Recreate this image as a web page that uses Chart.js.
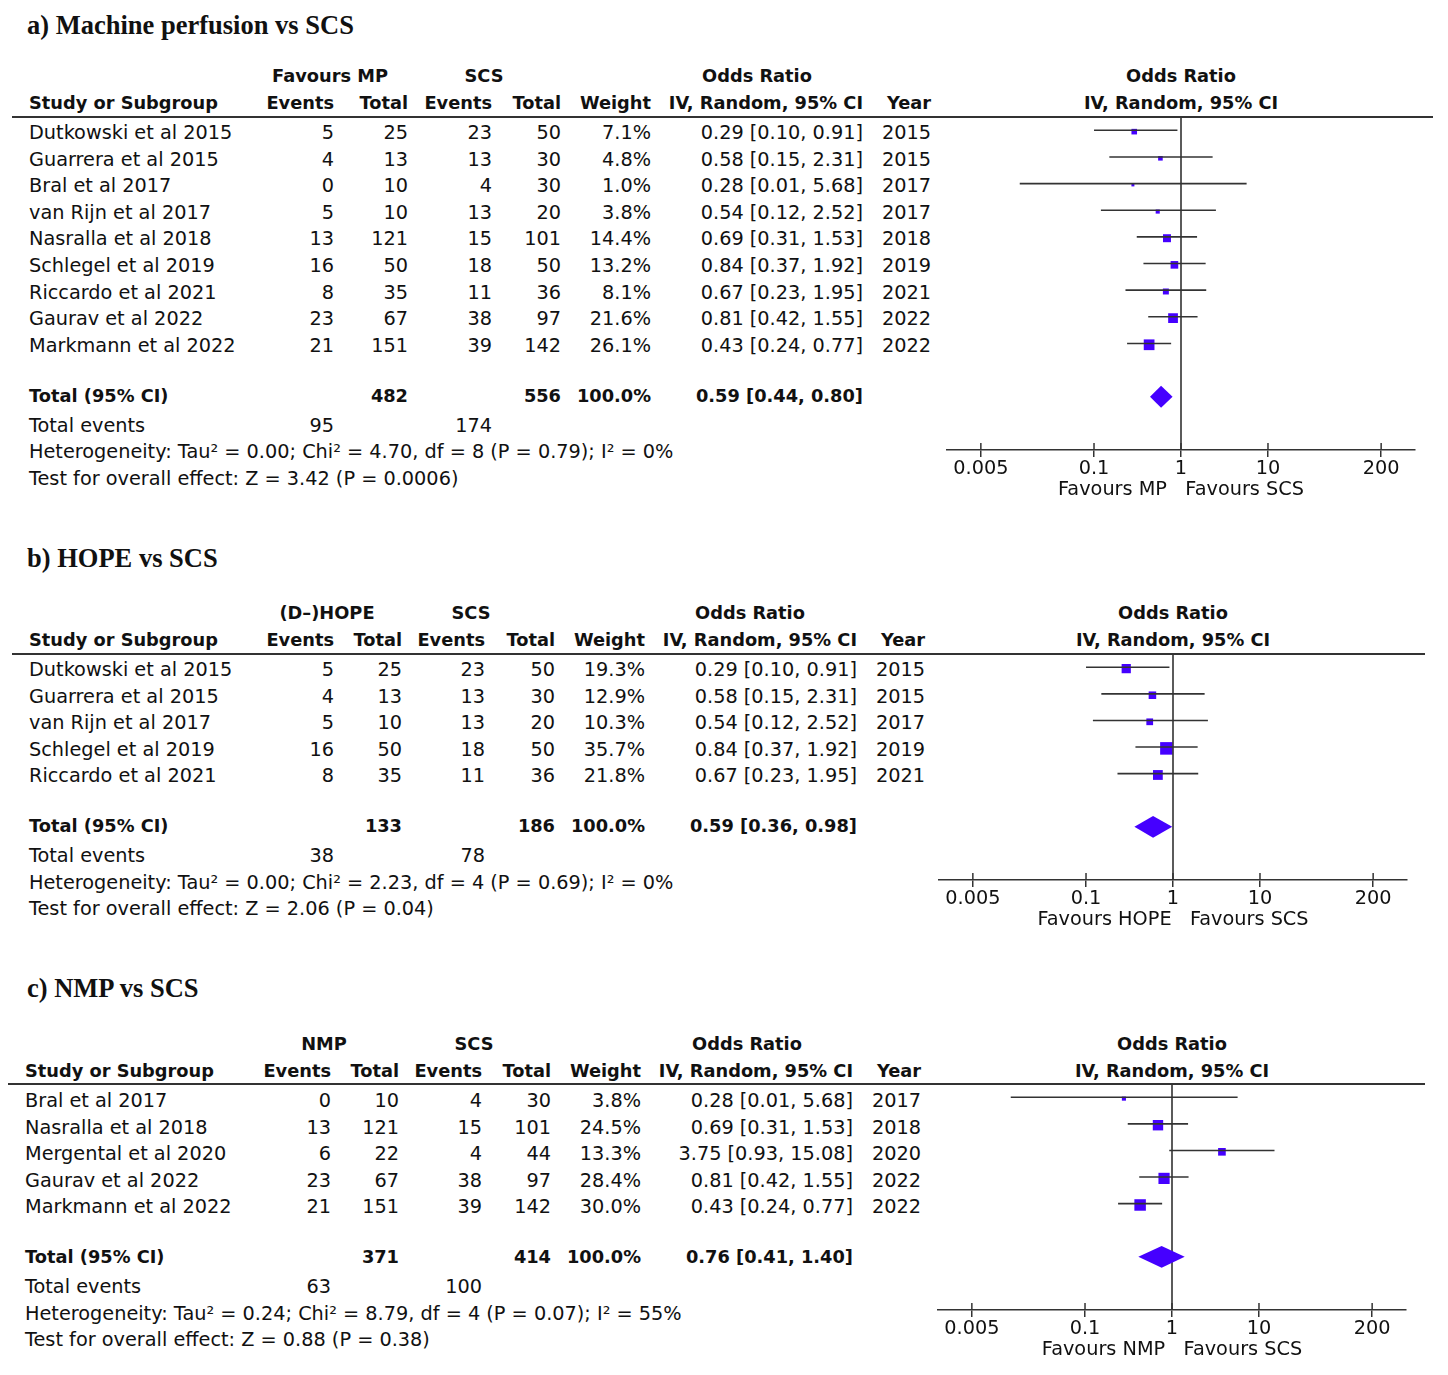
<!DOCTYPE html>
<html>
<head>
<meta charset="utf-8">
<script src="https://cdn.jsdelivr.net/npm/chart.js@4.4.1/dist/chart.umd.min.js"></script>
<style>
html, body { margin: 0; padding: 0; background: #fff; }
#page { position: relative; width: 1448px; height: 1375px; overflow: hidden; font-family: "DejaVu Sans", sans-serif; color: #111; }
.t { position: absolute; white-space: nowrap; font-size: 19.3px; line-height: 24px; height: 24px; }
.b { font-weight: bold; font-size: 17.8px; }
.ttl { position: absolute; white-space: nowrap; font-family: "Liberation Serif", "Times New Roman", serif; font-weight: bold; font-size: 26.5px; line-height: 32px; }
.rule { position: absolute; height: 0; border-top: 2px solid #333; }
canvas { position: absolute; }
</style>
</head>
<body>
<div id="page"></div>
<script>
// ── data ───────────────────────────────────────────────────────────────────
const tickVals   = [0.005, 0.1, 1, 10, 200];
const tickLabels = ["0.005", "0.1", "1", "10", "200"];

// a) Machine perfusion vs SCS
const studiesA = ["Dutkowski et al 2015", "Guarrera et al 2015", "Bral et al 2017", "van Rijn et al 2017",
  "Nasralla et al 2018", "Schlegel et al 2019", "Riccardo et al 2021", "Gaurav et al 2022", "Markmann et al 2022"];
const evA     = [5, 4, 0, 5, 13, 16, 8, 23, 21];
const totA    = [25, 13, 10, 10, 121, 50, 35, 67, 151];
const evScsA  = [23, 13, 4, 13, 15, 18, 11, 38, 39];
const totScsA = [50, 30, 30, 20, 101, 50, 36, 97, 142];
const weightA = [7.1, 4.8, 1.0, 3.8, 14.4, 13.2, 8.1, 21.6, 26.1];
const orA     = [0.29, 0.58, 0.28, 0.54, 0.69, 0.84, 0.67, 0.81, 0.43];
const loA     = [0.10, 0.15, 0.014, 0.12, 0.31, 0.37, 0.23, 0.42, 0.24];
const hiA     = [0.91, 2.31, 5.68, 2.52, 1.53, 1.92, 1.95, 1.55, 0.77];
const yearA   = [2015, 2015, 2017, 2017, 2018, 2019, 2021, 2022, 2022];
const pooledA = [0.59, 0.44, 0.80];
const sumsA   = [482, 556, 95, 174];
const hetA    = "Heterogeneity: Tau² = 0.00; Chi² = 4.70, df = 8 (P = 0.79); I² = 0%";
const testA   = "Test for overall effect: Z = 3.42 (P = 0.0006)";

// b) HOPE vs SCS
const studiesB = ["Dutkowski et al 2015", "Guarrera et al 2015", "van Rijn et al 2017", "Schlegel et al 2019", "Riccardo et al 2021"];
const evB     = [5, 4, 5, 16, 8];
const totB    = [25, 13, 10, 50, 35];
const evScsB  = [23, 13, 13, 18, 11];
const totScsB = [50, 30, 20, 50, 36];
const weightB = [19.3, 12.9, 10.3, 35.7, 21.8];
const orB     = [0.29, 0.58, 0.54, 0.84, 0.67];
const loB     = [0.10, 0.15, 0.12, 0.37, 0.23];
const hiB     = [0.91, 2.31, 2.52, 1.92, 1.95];
const yearB   = [2015, 2015, 2017, 2019, 2021];
const pooledB = [0.59, 0.36, 0.98];
const sumsB   = [133, 186, 38, 78];
const hetB    = "Heterogeneity: Tau² = 0.00; Chi² = 2.23, df = 4 (P = 0.69); I² = 0%";
const testB   = "Test for overall effect: Z = 2.06 (P = 0.04)";

// c) NMP vs SCS
const studiesC = ["Bral et al 2017", "Nasralla et al 2018", "Mergental et al 2020", "Gaurav et al 2022", "Markmann et al 2022"];
const evC     = [0, 13, 6, 23, 21];
const totC    = [10, 121, 22, 67, 151];
const evScsC  = [4, 15, 4, 38, 39];
const totScsC = [30, 101, 44, 97, 142];
const weightC = [3.8, 24.5, 13.3, 28.4, 30.0];
const orC     = [0.28, 0.69, 3.75, 0.81, 0.43];
const loC     = [0.014, 0.31, 0.93, 0.42, 0.24];
const hiC     = [5.68, 1.53, 15.08, 1.55, 0.77];
const yearC   = [2017, 2018, 2020, 2022, 2022];
const pooledC = [0.76, 0.41, 1.40];
const sumsC   = [371, 414, 63, 100];
const hetC    = "Heterogeneity: Tau² = 0.24; Chi² = 8.79, df = 4 (P = 0.07); I² = 55%";
const testC   = "Test for overall effect: Z = 0.88 (P = 0.38)";

// ── layout ─────────────────────────────────────────────────────────────────
const BLUE = "#4500ff", INK = "#333";
const ROW_H = 26.6, AXIS_H = 52, HALF_W = 234, MARGIN = 40;

const panels = [
  { title: "a) Machine perfusion vs SCS", group: "Favours MP", fav: "Favours MP   Favours SCS",
    studies: studiesA, ev: evA, tot: totA, evS: evScsA, totS: totScsA, w: weightA, or: orA, lo: loA, hi: hiA, year: yearA,
    pooled: pooledA, sums: sumsA, het: hetA, test: testA,
    L: { ty: 25, h1: 76, h2: 103, rule: 117, rl: 1433, row0: 133, total: 396, te: 426, hetY: 452, testY: 479,
         left: 29, ev: 334, tot: 408, evS: 492, totS: 561, w: 651, ci: 863, yr: 931, g1: 330, g2: 484, orc: 757, cx: 1181 } },
  { title: "b) HOPE vs SCS", group: "(D–)HOPE", fav: "Favours HOPE   Favours SCS",
    studies: studiesB, ev: evB, tot: totB, evS: evScsB, totS: totScsB, w: weightB, or: orB, lo: loB, hi: hiB, year: yearB,
    pooled: pooledB, sums: sumsB, het: hetB, test: testB,
    L: { ty: 558, h1: 613, h2: 640, rule: 654, rl: 1425, row0: 670, total: 826, te: 856, hetY: 883, testY: 909,
         left: 29, ev: 334, tot: 402, evS: 485, totS: 555, w: 645, ci: 857, yr: 925, g1: 327, g2: 471, orc: 750, cx: 1173 } },
  { title: "c) NMP vs SCS", group: "NMP", fav: "Favours NMP   Favours SCS",
    studies: studiesC, ev: evC, tot: totC, evS: evScsC, totS: totScsC, w: weightC, or: orC, lo: loC, hi: hiC, year: yearC,
    pooled: pooledC, sums: sumsC, het: hetC, test: testC,
    L: { ty: 988, h1: 1044, h2: 1071, rule: 1084, rl: 1425, row0: 1101, total: 1257, te: 1287, hetY: 1314, testY: 1340,
         left: 25, ev: 331, tot: 399, evS: 482, totS: 551, w: 641, ci: 853, yr: 921, g1: 324, g2: 474, orc: 747, cx: 1172 } }
];

const page = document.getElementById("page");

function put(str, x, y, align, bold) {
  const d = document.createElement("div");
  d.className = "t" + (bold ? " b" : "");
  d.textContent = str;
  d.style.top = (y - 12) + "px";
  if (align === "left") d.style.left = x + "px";
  else if (align === "right") d.style.right = (1448 - x) + "px";
  else { d.style.left = x + "px"; d.style.transform = "translateX(-50%)"; }
  page.appendChild(d);
}

const ci = (o, l, h) => `${o.toFixed(2)} [${l.toFixed(2)}, ${h.toFixed(2)}]`;

function table(p) {
  const L = p.L;
  const t = document.createElement("div");
  t.className = "ttl"; t.textContent = p.title;
  t.style.left = "27px"; t.style.top = (L.ty - 16) + "px";
  page.appendChild(t);

  put(p.group, L.g1, L.h1, "center", true);
  put("SCS", L.g2, L.h1, "center", true);
  put("Odds Ratio", L.orc, L.h1, "center", true);
  put("Odds Ratio", L.cx, L.h1, "center", true);
  put("Study or Subgroup", L.left, L.h2, "left", true);
  put("Events", L.ev, L.h2, "right", true);
  put("Total", L.tot, L.h2, "right", true);
  put("Events", L.evS, L.h2, "right", true);
  put("Total", L.totS, L.h2, "right", true);
  put("Weight", L.w, L.h2, "right", true);
  put("IV, Random, 95% CI", L.ci, L.h2, "right", true);
  put("Year", L.yr, L.h2, "right", true);
  put("IV, Random, 95% CI", L.cx, L.h2, "center", true);

  const r = document.createElement("div");
  r.className = "rule";
  r.style.left = (L.left - 17) + "px"; r.style.width = (L.rl - L.left + 17) + "px";
  r.style.top = (L.rule - 1) + "px";
  page.appendChild(r);

  p.studies.forEach((s, i) => {
    const y = L.row0 + i * ROW_H;
    put(s, L.left, y, "left");
    put(String(p.ev[i]), L.ev, y, "right");
    put(String(p.tot[i]), L.tot, y, "right");
    put(String(p.evS[i]), L.evS, y, "right");
    put(String(p.totS[i]), L.totS, y, "right");
    put(p.w[i].toFixed(1) + "%", L.w, y, "right");
    put(ci(p.or[i], p.lo[i], p.hi[i]), L.ci, y, "right");
    put(String(p.year[i]), L.yr, y, "right");
  });

  put("Total (95% CI)", L.left, L.total, "left", true);
  put(String(p.sums[0]), L.tot, L.total, "right", true);
  put(String(p.sums[1]), L.totS, L.total, "right", true);
  put("100.0%", L.w, L.total, "right", true);
  put(ci(p.pooled[0], p.pooled[1], p.pooled[2]), L.ci, L.total, "right", true);
  put("Total events", L.left, L.te, "left");
  put(String(p.sums[2]), L.ev, L.te, "right");
  put(String(p.sums[3]), L.evS, L.te, "right");
  put(p.het, L.left, L.hetY, "left");
  put(p.test, L.left, L.testY, "left");
}

// diamond for the pooled estimate + tick marks above the axis
const forestMarks = {
  id: "forestMarks",
  afterDatasetsDraw(chart, args, opts) {
    const { ctx, scales: { x, y } } = chart;
    const [est, lo, hi] = opts.pooled;
    const yc = y.getPixelForValue(opts.row);
    const yt = y.getPixelForValue(opts.row - 0.41), yb = y.getPixelForValue(opts.row + 0.41);
    ctx.save();
    ctx.beginPath();
    ctx.moveTo(x.getPixelForValue(lo), yc);
    ctx.lineTo(x.getPixelForValue(est), yt);
    ctx.lineTo(x.getPixelForValue(hi), yc);
    ctx.lineTo(x.getPixelForValue(est), yb);
    ctx.closePath();
    ctx.fillStyle = BLUE; ctx.fill();
    ctx.strokeStyle = INK; ctx.lineWidth = 1.5;
    x.ticks.forEach(t => {
      const px = x.getPixelForValue(t.value);
      ctx.beginPath(); ctx.moveTo(px, x.top); ctx.lineTo(px, x.top - 7); ctx.stroke();
    });
    ctx.restore();
  }
};

function forest(p) {
  const L = p.L, n = p.studies.length;
  const plotH = (n + 3.5) * ROW_H;
  const cv = document.createElement("canvas");
  cv.width = HALF_W * 2 + MARGIN * 2; cv.height = Math.round(plotH + AXIS_H);
  cv.style.left = (L.cx - HALF_W - MARGIN) + "px"; cv.style.top = L.rule + "px";
  page.appendChild(cv);

  const datasets = [{ data: [{ x: 1, y: -0.5 }, { x: 1, y: n + 3 }], showLine: true, pointRadius: 0,
                      borderColor: INK, borderWidth: 1.6 }];
  p.lo.forEach((lo, i) => datasets.push({
    data: [{ x: lo, y: i }, { x: p.hi[i], y: i }], showLine: true, pointRadius: 0, borderColor: INK, borderWidth: 1.6
  }));
  datasets.push({
    data: p.or.map((v, i) => ({ x: v, y: i + 0.05 })),
    pointStyle: "rect", pointRadius: p.w.map(w => Math.max(2.1, 1.485 * Math.sqrt(w))),
    backgroundColor: BLUE, borderWidth: 0
  });

  new Chart(cv, {
    type: "scatter",
    data: { datasets },
    plugins: [forestMarks],
    options: {
      responsive: false, animation: false,
      layout: { autoPadding: false, padding: { left: MARGIN, right: MARGIN, top: 0, bottom: 0 } },
      plugins: { legend: { display: false }, tooltip: { enabled: false },
                 forestMarks: { pooled: p.pooled, row: n + 1 } },
      scales: {
        x: {
          type: "logarithmic", min: 1 / 490, max: 490,
          afterBuildTicks: s => { s.ticks = tickVals.map(v => ({ value: v })); },
          afterFit: s => { s.height = AXIS_H; },
          ticks: { autoSkip: false, maxRotation: 0, padding: 0, color: "#111",
                   font: { family: "DejaVu Sans", size: 19.3 },
                   callback: (v, i) => tickLabels[i] },
          grid: { drawOnChartArea: false, drawTicks: true, tickLength: 7, color: INK, lineWidth: 1.5 },
          border: { display: true, color: INK, width: 1.6 },
          title: { display: true, text: p.fav, color: "#111", padding: { top: 0, bottom: 0 },
                   font: { family: "DejaVu Sans", size: 19.3 } }
        },
        y: { type: "linear", reverse: true, min: -0.5, max: n + 3, display: false }
      }
    }
  });
}

panels.forEach(p => { table(p); forest(p); });
</script>
</body>
</html>
